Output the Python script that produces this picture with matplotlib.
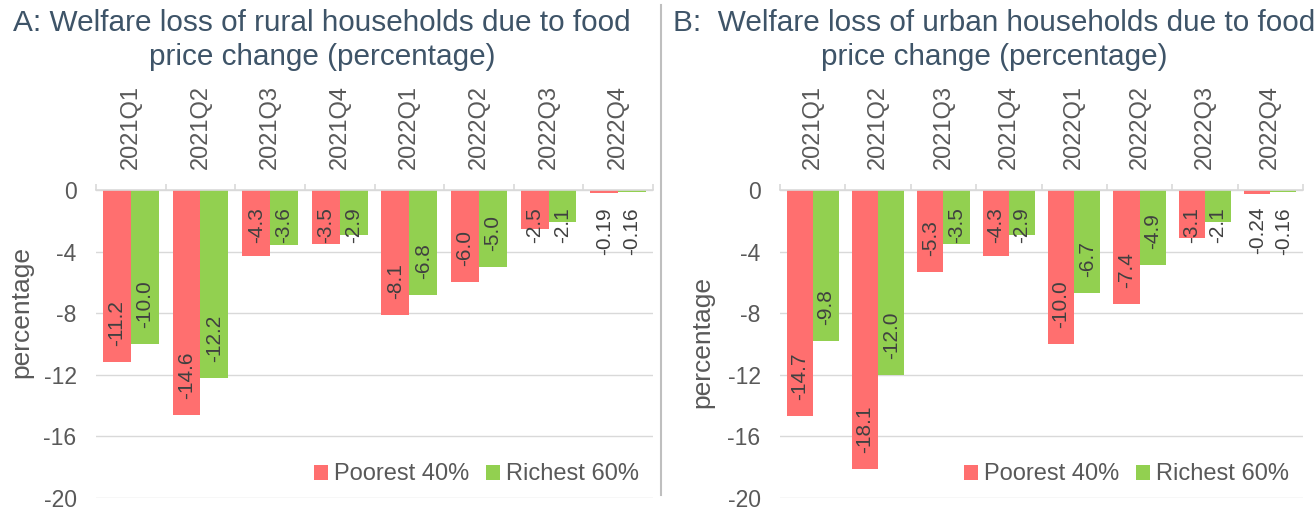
import matplotlib.pyplot as plt
from matplotlib.lines import Line2D

plt.rcParams['font.family'] = ['Liberation Sans', 'DejaVu Sans']

# data
quarters = ["2021Q1", "2021Q2", "2021Q3", "2021Q4",
            "2022Q1", "2022Q2", "2022Q3", "2022Q4"]
rural_poor = [-11.2, -14.6, -4.3, -3.5, -8.1, -6.0, -2.5, -0.19]
rural_rich = [-10.0, -12.2, -3.6, -2.9, -6.8, -5.0, -2.1, -0.16]
urban_poor = [-14.7, -18.1, -5.3, -4.3, -10.0, -7.4, -3.1, -0.24]
urban_rich = [-9.8, -12.0, -3.5, -2.9, -6.7, -4.9, -2.1, -0.16]
series_names = ["Poorest 40%", "Richest 60%"]
yticks = [0, -4, -8, -12, -16, -20]

RED = '#FF6F6F'
GREEN = '#92D050'
GRID = '#D9D9D9'
TXT = '#595959'
TITLE = '#3E5468'


def fmt(v):
    return "%.2f" % v if abs(v) < 1 else "%.1f" % v


def draw_panel(ax, poor, rich, ylab_y):
    n = len(quarters)
    xs = [i + 0.5 for i in range(n)]
    ax.bar([x - 0.2 for x in xs], poor, width=0.4, color=RED, label=series_names[0])
    ax.bar([x + 0.2 for x in xs], rich, width=0.4, color=GREEN, label=series_names[1])

    # data labels, rotated, inside end
    for vals, off in ((poor, -0.2), (rich, 0.2)):
        for x, v in zip(xs, vals):
            s = fmt(v)
            L = 0.62 * len(s) - 0.1
            if v + 1.04 + L > -1.1:
                ax.text(x + off, -1.1, s, rotation=90, ha='center', va='top',
                        fontsize=15, color='#404040')
            else:
                ax.text(x + off, v + 1.04, s, rotation=90, ha='center', va='bottom',
                        fontsize=15, color='#404040')

    ax.set_xlim(0, n)
    ax.set_ylim(-20, 0)
    ax.set_yticks(yticks)
    ax.set_yticklabels([str(t) for t in yticks])
    ax.grid(axis='y', color=GRID, linewidth=1)
    ax.set_axisbelow(True)
    for sp in ('left', 'right', 'bottom'):
        ax.spines[sp].set_visible(False)
    ax.spines['top'].set_color(GRID)
    ax.spines['top'].set_linewidth(1.2)

    ax.xaxis.set_ticks_position('top')
    ax.set_xticks(xs)
    ax.set_xticklabels(quarters, rotation=90, fontsize=17, color=TXT)
    ax.set_xticks(range(n + 1), minor=True)
    ax.tick_params(axis='x', which='major', length=0, pad=15)
    ax.tick_params(axis='x', which='minor', length=4.5, color=GRID, width=1.2)
    ax.tick_params(axis='y', length=0, pad=14, labelsize=16.5, labelcolor=TXT)
    ax.set_ylabel("percentage", fontsize=19, color=TXT, labelpad=6)
    ax.yaxis.set_label_coords(ax.yaxis.label.get_position()[0], ylab_y)
    ax.yaxis.label.set_verticalalignment('bottom')

    ax.legend(loc='lower right', bbox_to_anchor=(1.0, -0.005), ncol=2, frameon=False,
              fontsize=17, labelcolor=TXT, handlelength=0.6, handleheight=0.6,
              handletextpad=0.25, columnspacing=0.7, borderaxespad=0.2)


fig = plt.figure(figsize=(13.15, 5.08), dpi=100)
W, H = 1315, 508
axA = fig.add_axes([96 / W, 1 - 498 / H, 557 / W, 308 / H])
axB = fig.add_axes([780 / W, 1 - 498 / H, 523 / W, 308 / H])
draw_panel(axA, rural_poor, rural_rich, 0.604)
draw_panel(axB, urban_poor, urban_rich, 0.506)
# put y labels at fixed horizontal spots
axA.yaxis.set_label_coords((21 - 96) / 557, 0.604)
axB.yaxis.set_label_coords((702 - 780) / 523, 0.506)
axA.yaxis.label.set_verticalalignment('center')
axB.yaxis.label.set_verticalalignment('center')

fig.text(322 / W, 1 - 23 / H, "A: Welfare loss of rural households due to food",
         ha='center', va='center', fontsize=21.4, color=TITLE)
fig.text(322 / W, 1 - 57 / H, "price change (percentage)",
         ha='center', va='center', fontsize=21.4, color=TITLE)
fig.text(994 / W, 1 - 23 / H, "B:  Welfare loss of urban households due to food",
         ha='center', va='center', fontsize=21.4, color=TITLE)
fig.text(994 / W, 1 - 57 / H, "price change (percentage)",
         ha='center', va='center', fontsize=21.4, color=TITLE)

fig.add_artist(Line2D([661 / W, 661 / W], [1 - 495 / H, 1 - 5 / H],
                      color='#BFBFBF', linewidth=1.5))

fig.savefig("out.png", dpi=100)
